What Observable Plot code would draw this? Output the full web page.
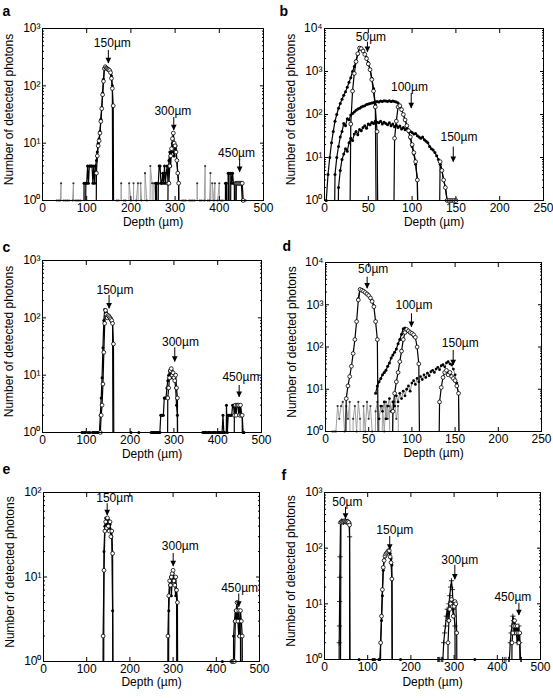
<!DOCTYPE html>
<html><head><meta charset="utf-8">
<script src="https://cdn.jsdelivr.net/npm/d3@7"></script>
<script src="https://cdn.jsdelivr.net/npm/@observablehq/plot@0.6"></script>
<style>
body{margin:0;background:#fff;}
#root{position:relative;width:553px;height:698px;overflow:hidden;}
#root svg{position:absolute;}
</style></head><body><div id="root"></div>
<script>
// ---------- tick values ----------
const xTicks500 = [0,100,200,300,400,500];
const xTicks250 = [0,50,100,150,200,250];
const yTicks3 = [1,10,100,1000];
const yTicks4 = [1,10,100,1000,10000];
const yTicks2 = [1,10,100];

// ---------- panel a ----------
const aCircD = [120,122,124,126,128,130,132,134,136,138,140,142,144,146,148,150,152,154,156,158,160,162, 282,284,286,288,290,292,294,296,298,300,302,304,306,308,310, 436,438,440,442,444,446,448,450,452,454,456];
const aCircC = [0,3,6,9,11,15,24,40,70,120,200,215,205,200,195,190,185,170,135,90,45,0, 0,2,2,4,6,8,12,15,10,9,7,5,3,2,0, 0,2,2,2,2,2,2,2,2,1,0];
const aDotD = [92,94,96,98,100,102,104,106,108,110,112,114,116,118,120,122,124,126,128,130,132,134,136,138,140,142,144,146,148,150,152,154,156,158,160,
  254,256,258,260,262,264,266,268,270,272,274,276,278,280,282,284,286,288,290,292,294,296,298,300,302,304,306,308,310,
  412,414,416,418,420,422,424,426,428,430,432,434,436,438,440,442,444,446,448,450,452,454,456];
const aDotC = [0,2,0,2,2,4,2,4,4,4,4,2,4,2,4,5,7,10,12,16,26,42,75,130,200,220,210,200,195,190,185,175,150,100,0,
  0,2,2,0,2,4,4,2,2,3,2,4,2,3,4,2,5,7,4,8,10,7,6,8,9,5,3,2,0,
  0,2,2,0,3,3,0,3,2,3,2,2,0,2,2,2,2,2,2,2,1,1,0];
const aGreyD = [30,32,36,40,42,44,48,52,56,60,64,68,70,72,74,78,82,86,90,
  164,168,172,176,178,180,184,188,192,196,200,204,206,208,212,216,220,222,224,228,232,236,240,244,248,250,252,
  312,316,320,324,328,332,336,340,344,348,350,352,356,360,364,366,368,370,374,378,380,382,384,388,390,392,396,400,402,404,408,412,
  456,458,460,462];
const aGreyC = [0,1,1,1,2,0,1,1,1,1,0,1,2,0,1,1,1,1,0,
  0,1,1,0,2,0,1,1,0,2,1,0,2,0,1,2,0,2,1,0,3,1,0,4,2,0,2,
  0,1,1,1,0,1,1,1,1,0,2,0,1,1,0,1,4,0,1,1,3,0,2,1,2,0,1,2,0,1,1,0,
  0,1,1,0];
const aAnnLabel = ["150µm","300µm","450µm"];
const aAnnDepth = [149,297,446];
const aAnnTip = [245,16.6,3.1];
const aAnnTop = [414,28,5.2];
const aAnnTextDepth = [158,295,439];
const aAnnTextCount = [548,35.7,6.7];

// ---------- panel b ----------
const b50DotD = [0,2,4,6,8,10,12,14,16,18,20,22,24,26,28,30,32,34,36,38,40,42,44,46,48,50,52,54,56,58,60];
const b50DotC = [0,1,4,10,22,40,70,100,140,180,225,280,340,430,560,720,1000,1300,1800,2500,3600,3500,3100,2600,2100,1600,1150,700,400,170,0];
const b50CircD = [28,30,32,34,36,38,40,42,44,46,48,50,52,54,56,58,60,62];
const b50CircC = [0,60,350,900,1700,2600,3500,3400,3000,2500,2000,1500,1100,650,350,150,40,0];
const b100DotD = [10,12,14,16,18,20,22,24,26,28,30,32,34,36,38,40,42,44,46,48,50,52,54,56,58,60,62,64,66,68,70,72,74,76,78,80,82,84,86,88,90,92,94,96,98,100,102,104,106,108];
const b100DotC = [0,4,10,18,30,40,62,55,80,75,98,105,115,125,135,140,150,155,160,170,175,180,185,190,195,200,195,205,200,210,205,200,210,200,205,200,195,185,160,130,100,75,55,40,28,18,12,7,3,0];
const b100CircD = [78,80,82,84,86,88,90,92,94,96,98,100,102,104,106,108];
const b100CircC = [0,28,70,150,160,130,100,75,55,42,30,20,13,8,3,0];
const b150DotD = [14,16,18,20,22,24,26,28,30,32,34,36,38,40,42,44,46,48,50,52,54,56,58,60,62,64,66,68,70,72,74,76,78,80,82,84,86,88,90,92,94,96,98,100,102,104,106,108,110,112,114,116,118,120,122,124,126,128,130,132,134,136,138,140,142];
const b150DotC = [0,2,5,9,12,16,14,22,28,25,35,40,34,45,42,50,55,48,60,58,65,62,70,66,64,70,60,66,62,58,64,55,60,52,56,50,54,46,50,44,48,42,40,38,35,36,32,30,28,30,26,24,22,18,16,15,13,11,9,7,5,3,2,1,0];
const b150CircD = [130,132,134,136,138,140,142,144,146,148,150,152];
const b150CircC = [0,8,5,3,2,1,1,1,1,1,1,0];
const bAnnLabel = ["50µm","100µm","150µm"];
const bAnnDepth = [49,99,147];
const bAnnTip = [2800,138,7.8];
const bAnnTop = [4800,309,17.4];
const bAnnTextDepth = [53,97,153.5];
const bAnnTextCount = [6300,430,29.6];

// ---------- panel c ----------
const cCircD = [130,132,134,136,138,140,142,144,146,148,150,152,154,156,158,160,162,164, 284,286,288,290,292,294,296,298,300,302,304,306,308,310, 436,438,440,442,444,446,448,450,452,454,456,458];
const cCircC = [0,1,2,3,7,25,80,135,115,100,110,105,100,95,90,80,35,0, 0,4,6,9,12,13,10,11,9,8,10,6,4,0, 0,2,3,2,3,3,3,2,3,2,2,0];
const cDotD = [88,90,92,94,96,98,100,104,108,112,114,116,118,120,122,124,126,128,130,132,134,136,138,140,142,144,146,148,150,152,154,156,158,160,162,
  200,202,204,218,220,222,
  246,248,250,252,254,256,258,260,262,264,266,268,270,272,274,276,278,280,282,284,286,288,290,292,294,296,298,300,302,304,306,308,310,312,
  364,366,368,370,372,374,376,378,380,382,384,386,388,390,392,394,396,398,400,402,404,406,408,410,412,414,416,418,420,422,424,426,428,430,432,434,436,438,440,442,444,446,448,450,452,454,456,458,460,462];
const cDotC = [0,1,1,0,1,1,0,1,1,0,1,1,1,1,0,1,1,1,1,2,4,9,30,90,140,135,125,115,110,100,95,90,85,80,0,
  0,1,0,0,1,0,
  0,1,1,1,1,1,1,1,1,1,1,1,2,2,2,2,4,4,4,6,8,10,12,11,9,12,10,9,8,6,3,2,0,0,
  0,1,1,1,1,1,0,1,1,1,1,0,1,1,1,1,1,0,1,1,1,1,0,1,2,1,1,0,3,1,2,2,2,2,2,3,3,2,3,3,3,3,2,3,3,2,2,1,1,0];
const cAnnLabel = ["150µm","300µm","450µm"];
const cAnnDepth = [152,302,449];
const cAnnTip = [144,17,4.1];
const cAnnTop = [245,30,6.6];
const cAnnTextDepth = [165.5,315,453];
const cAnnTextCount = [300,38,9.2];

// ---------- panel d ----------
const d50CircD = [22,24,26,28,30,32,34,36,38,40,42,44,46,48,50,52,54,56,58,60,62];
const d50CircC = [0,6,12,20,35,70,150,400,1300,2300,2200,2100,1950,1800,1650,1450,1200,900,400,150,0];
const d50DotD = [38,40,42,44,46,48,50,52,54,56];
const d50DotC = [1400,2350,2250,2150,2000,1850,1700,1500,1250,950];
const d100CircD = [76,78,80,82,84,86,88,90,92,94,96,98,100,102,104,106,108,110];
const d100CircC = [0,3,8,15,25,45,80,150,220,260,240,220,210,195,170,100,40,0];
const d100DotD = [58,60,62,64,66,68,70,72,74,76,78,80,82,84,86,88,90,92,94,96,98,100,102];
const d100DotC = [8,12,15,18,22,25,28,35,42,55,65,75,90,120,150,200,270,280,260,240,220,200,180];
const d150DotD = [62,64,66,68,70,72,74,76,78,80,82,84,86,88,90,92,94,96,98,100,102,104,106,108,110,112,114,116,118,120,122,124,126,128,130,132,134,136,138,140,142,144,146,148,150,152,154,156];
const d150DotC = [2,4,3,5,2,4,6,3,5,4,7,5,8,6,9,7,10,12,9,14,16,13,18,15,20,17,22,19,24,21,26,28,25,30,33,29,36,38,34,42,45,40,38,30,22,14,8,0];
const d150CircD = [130,132,134,136,138,140,142,144,146,148,150,152,154,156];
const d150CircC = [0,5,11,19,25,28,22,25,20,18,16,12,8,0];
const dGreyD = [8,10,12,14,16,18,20,22,24,26,28,30,32,34,36,38,40,42,44,46,48,50,52,54,56,58,60,62,64,66,68,70,72,74,76,78,80,82,84,86];
const dGreyC = [1,1,1,4,2,4,5,1,4,2,5,0,2,4,1,5,2,0,4,1,5,2,4,1,0,3,5,2,0,4,1,5,2,4,0,3,5,2,4,0];
const dAnnLabel = ["50µm","100µm","150µm"];
const dAnnDepth = [48.2,99.5,147.8];
const dAnnTip = [2400,295,36.6];
const dAnnTop = [4500,610,83];
const dAnnTextDepth = [55.2,102.4,156];
const dAnnTextCount = [7100,960,122];

// ---------- panel e ----------
const eCircD = [136,138,140,142,144,146,148,150,152,154,156,158,160,162, 286,288,290,292,294,296,298,300,302,304,306,308,310,312, 434,436,438,440,442,444,446,448,450,452,454,456,458,460,462];
const eCircC = [0,2,12,35,45,38,50,40,35,45,30,35,19,0, 0,2,6,9,8,10,11,12,9,8,10,7,5,0, 0,1,1,1,1,3,4,5,3,4,2,4,3,2,0];
const eDotD = [138,140,142,144,146,148,150,152,154,156,158,160,162, 288,290,292,294,296,298,300,302,304,306,308,310, 412,414,416, 438,440,442,444,446,448,450,452,454,456,458];
const eDotC = [0,20,40,50,45,42,48,38,42,36,30,4,0, 0,4,8,10,6,9,11,10,8,6,7,0, 0,1,0, 0,2,3,4,3,4,3,2,3,2,0];
const eGreyD = [306,308,310,312, 454,456,458,460];
const eGreyC = [0,6,5,0, 0,3,2,0];
const eAnnLabel = ["150µm","300µm","450µm"];
const eAnnDepth = [147.4,300.2,452];
const eAnnTip = [53.5,13.3,4.4];
const eAnnTop = [73.6,19,6.3];
const eAnnTextDepth = [164.8,316.7,454];
const eAnnTextCount = [85,23,7.3];

// ---------- panel f ----------
const f50PlusD = [33,34,34.5,35,35.5,36,37,38,40,42,44,46,48,50,52,54,56,57,58,59];
const f50PlusC = [0,2,4,11,30,70,280,300,310,300,290,300,310,290,300,305,290,280,160,0];
const f50CircD = [36,38,40,42,44,46,48,50,52,54,56,58,60];
const f50CircC = [0,290,300,295,300,310,300,305,295,300,290,260,0];
const f150CircD = [128,130,132,134,136,138,140,142,144,146,148,150,152,154,156,158];
const f150CircC = [0,2,6,18,45,60,72,78,82,86,90,90,70,55,28,0];
const f150DotD = [110,112,116,118, 126,128,130,132,134,136,138,140,142,144,146,148,150,152,154,156,158, 174,176,178, 78,80,82, 346,348,350];
const f150DotC = [0,1,1,0, 1,1,2,5,14,40,62,70,76,80,84,88,86,80,65,50,0, 0,1,0, 0,1,0, 0,1,0];
const f300PlusD = [260,262,264,266,268,270,272,274,276,278,280,282,284,286,288,290,292,294,296,298,300,302,304];
const f300PlusC = [0,1,1,1,0,1,1,1,2,3,4,6,8,5,10,14,20,26,18,8,6,4,0];
const f300CircD = [284,286,288,290,292,294,296,298,300,302,304,306,308];
const f300CircC = [0,2,5,8,10,12,9,6,9,11,10,3,0];
const f450PlusD = [410,412,414,416,420,424,426,428,430,432,434,436,438,440,442,444,446,448,450,452,454,456,458];
const f450PlusC = [0,1,0,1,1,0,1,1,2,3,4,6,5,3,4,3,2,3,4,2,1,1,0];
const f450CircD = [432,434,436,438,440,442,444,446,448,450,452,454];
const f450CircC = [0,2,3,4,5,4,3,4,3,2,3,0];
const fAnnLabel = ["50µm","150µm","300µm","450µm"];
const fAnnDepth = [48.6,151,301.7,450];
const fAnnTip = [335,93,27,6.2];
const fAnnTop = [540,162,49,10.2];
const fAnnTextDepth = [52.9,162.8,313,436];
const fAnnTextCount = [670,207,61,13];

// ---------- drawing ----------
const FONT = "'Liberation Sans', Arial, Helvetica, sans-serif";
const FLOOR = 1e-3; // zero counts fall below the log axis (clipped)
const SUP = {0:"⁰",1:"¹",2:"²",3:"³",4:"⁴"};
const supFormat = d => "10" + SUP[Math.round(Math.log10(d))];

const KIND = {
  grey:    {line: "#a0a0a0", width: 1, marker: {r: 1.1, fill: "#333"}},
  greydot: {line: "#8a8a8a", width: 1, marker: {r: 1.4, fill: "#000"}},
  dot:     {line: "#000", width: 1.2, marker: {r: 1.5, fill: "#000"}},
  plus:    {line: "#000", width: 1.2, marker: {r: 1.8, symbol: "plus", stroke: "#000", strokeWidth: 0.8}},
  circle:  {line: "#000", width: 1.2, marker: {r: 1.9, fill: "#fff", stroke: "#000", strokeWidth: 0.8}}
};

function seriesMarks(depths, counts, kind) {
  const data = depths.map((depth, i) => ({depth, count: counts[i]}));
  const k = KIND[kind];
  return [
    Plot.line(data, {x: "depth", y: d => d.count > 0 ? d.count : FLOOR, stroke: k.line, strokeWidth: k.width, clip: true}),
    Plot.dot(data.filter(d => d.count > 0), {x: "depth", y: "count", ...k.marker})
  ];
}

const triDown = {
  draw(ctx, size) {
    const s = Math.sqrt(size);
    const w = 0.62 * s, h = 1.25 * s;
    ctx.moveTo(0, 0); ctx.lineTo(-w, -h); ctx.lineTo(w, -h); ctx.closePath();
  }
};

function annMarks(labels, depths, tips, tops, tDepths, tCounts) {
  const data = labels.map((label, i) => ({label, depth: depths[i], tip: tips[i], top: tops[i], tx: tDepths[i], ty: tCounts[i]}));
  return [
    Plot.ruleX(data, {x: "depth", y1: "top", y2: "tip", stroke: "#000", strokeWidth: 1}),
    Plot.dot(data, {x: "depth", y: "tip", symbol: triDown, r: 2.6, fill: "#000", stroke: "none"}),
    Plot.text(data, {x: "tx", y: "ty", text: "label", fontSize: 12})
  ];
}

function minorTicks(maxExp) {
  const out = [];
  for (let e = 0; e < maxExp; e++) for (let m = 2; m <= 9; m++) out.push(m * Math.pow(10, e));
  return out;
}

function panel(cfg) {
  const m = cfg.margin;
  const maxExp = Math.round(Math.log10(cfg.yDomain[1]));
  const minor = minorTicks(maxExp);
  const marks = [];
  for (const s of cfg.series) marks.push(...seriesMarks(s[0], s[1], s[2]));
  marks.push(
    Plot.frame({stroke: "#000", strokeWidth: 1}),
    Plot.axisX({anchor: "bottom", ticks: cfg.xTicks, tickSize: -4, tickPadding: 7, tickFormat: d => String(d), label: null, fontSize: 12}),
    Plot.axisX({anchor: "top", ticks: cfg.xTicks, tickSize: -4, tickFormat: () => "", label: null}),
    Plot.axisY({anchor: "left", ticks: cfg.yTicks, tickSize: -4, tickPadding: 6, tickFormat: supFormat, label: null, fontSize: 12}),
    Plot.axisY({anchor: "right", ticks: cfg.yTicks, tickSize: -4, tickFormat: () => "", label: null}),
    Plot.axisY({anchor: "left", ticks: minor, tickSize: -2, tickFormat: () => "", label: null}),
    Plot.axisY({anchor: "right", ticks: minor, tickSize: -2, tickFormat: () => "", label: null}),
    ...annMarks(...cfg.ann),
    Plot.text(["Depth (µm)"], {frameAnchor: "bottom", lineAnchor: "middle", textAnchor: "middle", dy: cfg.xLabelDy, fontSize: 12}),
    Plot.text(["Number of detected photons"], {frameAnchor: "left", textAnchor: "middle", lineAnchor: "middle", rotate: -90, dx: -33, dy: -5, fontSize: 12}),
    Plot.text([cfg.letter], {frameAnchor: "top-left", textAnchor: "start", lineAnchor: "bottom",
      dx: cfg.letterPos[0] - m[3], dy: cfg.letterPos[1] - m[0], fontSize: 14, fontWeight: "bold"})
  );
  const svg = Plot.plot({
    width: cfg.width, height: cfg.height,
    marginTop: m[0], marginRight: m[1], marginBottom: m[2], marginLeft: m[3],
    x: {domain: cfg.xDomain},
    y: {type: "log", domain: cfg.yDomain},
    style: {fontFamily: FONT, fontSize: "12px", color: "#000", background: "transparent", overflow: "visible"},
    marks
  });
  svg.style.left = cfg.left + "px";
  svg.style.top = cfg.top + "px";
  document.getElementById("root").append(svg);
}

panel({letter: "a", left: 0, top: 0, width: 276, height: 230, margin: [28,13,30,42], letterPos: [2,15], xLabelDy: 22,
  xDomain: [0,500], xTicks: xTicks500, yDomain: [1,1000], yTicks: yTicks3,
  series: [[aGreyD, aGreyC, "grey"], [aDotD, aDotC, "dot"], [aCircD, aCircC, "circle"]],
  ann: [aAnnLabel, aAnnDepth, aAnnTip, aAnnTop, aAnnTextDepth, aAnnTextCount]});

panel({letter: "b", left: 276, top: 0, width: 277, height: 230, margin: [28,10,30,48], letterPos: [3,15], xLabelDy: 22,
  xDomain: [0,250], xTicks: xTicks250, yDomain: [1,10000], yTicks: yTicks4,
  series: [[b150DotD, b150DotC, "dot"], [b100DotD, b100DotC, "dot"], [b50DotD, b50DotC, "dot"],
           [b150CircD, b150CircC, "circle"], [b100CircD, b100CircC, "circle"], [b50CircD, b50CircC, "circle"]],
  ann: [bAnnLabel, bAnnDepth, bAnnTip, bAnnTop, bAnnTextDepth, bAnnTextCount]});

panel({letter: "c", left: 0, top: 230, width: 276, height: 230, margin: [30,15,28,42], letterPos: [2,21], xLabelDy: 22,
  xDomain: [0,500], xTicks: xTicks500, yDomain: [1,1000], yTicks: yTicks3,
  series: [[cDotD, cDotC, "dot"], [cCircD, cCircC, "circle"]],
  ann: [cAnnLabel, cAnnDepth, cAnnTip, cAnnTop, cAnnTextDepth, cAnnTextCount]});

panel({letter: "d", left: 276, top: 230, width: 277, height: 230, margin: [32,12,29,49], letterPos: [6,20], xLabelDy: 22,
  xDomain: [0,250], xTicks: xTicks250, yDomain: [1,10000], yTicks: yTicks4,
  series: [[dGreyD, dGreyC, "grey"], [d150DotD, d150DotC, "greydot"], [d100DotD, d100DotC, "dot"], [d50DotD, d50DotC, "dot"],
           [d150CircD, d150CircC, "circle"], [d100CircD, d100CircC, "circle"], [d50CircD, d50CircC, "circle"]],
  ann: [dAnnLabel, dAnnDepth, dAnnTip, dAnnTop, dAnnTextDepth, dAnnTextCount]});

panel({letter: "e", left: 0, top: 460, width: 276, height: 238, margin: [32,17,37,43], letterPos: [2,13], xLabelDy: 21,
  xDomain: [0,500], xTicks: xTicks500, yDomain: [1,100], yTicks: yTicks2,
  series: [[eGreyD, eGreyC, "grey"], [eDotD, eDotC, "dot"], [eCircD, eCircC, "circle"]],
  ann: [eAnnLabel, eAnnDepth, eAnnTip, eAnnTop, eAnnTextDepth, eAnnTextCount]});

panel({letter: "f", left: 276, top: 460, width: 277, height: 238, margin: [32,13,39,48], letterPos: [5,19], xLabelDy: 23,
  xDomain: [0,500], xTicks: xTicks500, yDomain: [1,1000], yTicks: yTicks3,
  series: [[f150DotD, f150DotC, "dot"], [f300PlusD, f300PlusC, "plus"], [f450PlusD, f450PlusC, "plus"], [f50PlusD, f50PlusC, "plus"],
           [f50CircD, f50CircC, "circle"], [f150CircD, f150CircC, "circle"], [f300CircD, f300CircC, "circle"], [f450CircD, f450CircC, "circle"]],
  ann: [fAnnLabel, fAnnDepth, fAnnTip, fAnnTop, fAnnTextDepth, fAnnTextCount]});
</script>
</body></html>
